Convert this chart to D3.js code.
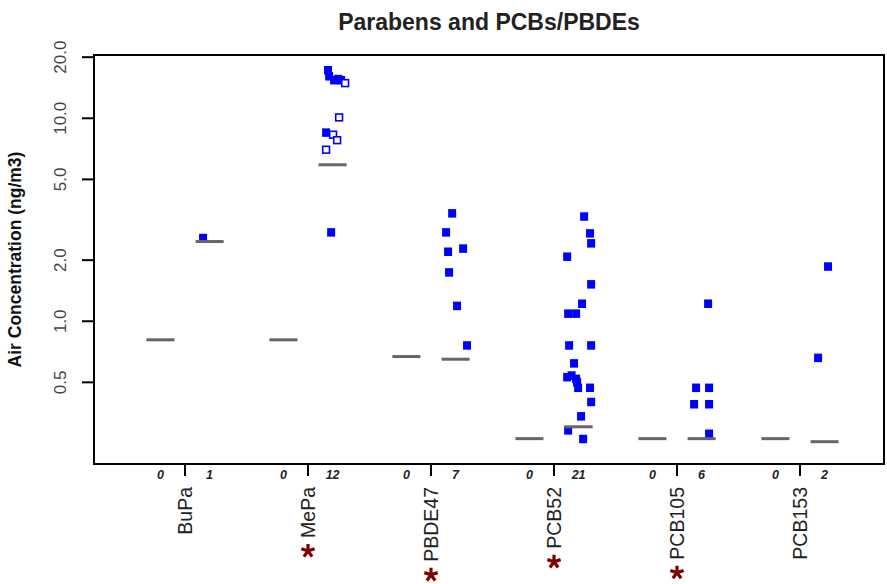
<!DOCTYPE html>
<html>
<head>
<meta charset="utf-8">
<script src="https://cdn.jsdelivr.net/npm/d3@7"></script>
<style>
  body { margin: 0; background: #fff; }
  text { font-family: "Liberation Sans", Arial, sans-serif; }
</style>
</head>
<body>
<div id="chart"></div>
<script>
// groups along the x axis, two slots each (control "0" / exposed n)
var groups = ["BuPa", "MePa", "PBDE47", "PCB52", "PCB105", "PCB153"];
var countsCtrl = [0, 0, 0, 0, 0, 0];
var countsExp = [1, 12, 7, 21, 6, 2];
var refCtrl = [0.81, 0.81, 0.67, 0.264, 0.264, 0.264];
var refExp = [2.47, 5.9, 0.65, 0.302, 0.264, 0.255];
var starred = ["MePa", "PBDE47", "PCB52", "PCB105"];
var yTicks = [0.5, 1, 2, 5, 10, 20];

// measured values, small horizontal jitter (in group units) and open/filled flag
var buPaVals = [2.57];
var buPaJit = [-0.053];
var buPaOpen = [0];

var mePaVals = [17.25, 16.1, 15.4, 15.6, 15.4, 14.9, 10.1, 8.5, 8.3, 7.8, 7.0, 2.74];
var mePaJit = [-0.037, -0.028, 0.012, 0.045, 0.069, 0.102, 0.053, -0.053, 0.004, 0.037, -0.053, -0.012];
var mePaOpen = [0, 0, 0, 0, 0, 1, 1, 0, 1, 1, 1, 0];

var pbde47Vals = [3.4, 2.74, 2.2, 2.28, 1.74, 1.19, 0.76];
var pbde47Jit = [-0.028, -0.077, -0.061, 0.061, -0.053, 0.012, 0.093];
var pbde47Open = [0, 0, 0, 0, 0, 0, 0];

var pcb52Vals = [3.28, 2.71, 2.42, 2.08, 1.52, 1.22, 1.09, 1.09, 0.76, 0.76, 0.62, 0.53, 0.52, 0.47, 0.47, 0.40, 0.34, 0.29, 0.263, 0.54, 0.50];
var pcb52Jit = [0.045, 0.093, 0.102, -0.093, 0.102, 0.028, -0.085, -0.020, -0.077, 0.102, -0.037, -0.093, -0.020, -0.004, 0.093, 0.102, 0.020, -0.085, 0.037, -0.057, -0.012];
var pcb52Open = pcb52Vals.map(function() { return 0; });

var pcb105Vals = [1.22, 0.47, 0.47, 0.39, 0.39, 0.279];
var pcb105Jit = [0.053, -0.045, 0.061, -0.061, 0.061, 0.061];
var pcb105Open = [0, 0, 0, 0, 0, 0];

var pcb153Vals = [1.86, 0.66];
var pcb153Jit = [0.028, -0.053];
var pcb153Open = [0, 0];

var allVals = [buPaVals, mePaVals, pbde47Vals, pcb52Vals, pcb105Vals, pcb153Vals];
var allJit = [buPaJit, mePaJit, pbde47Jit, pcb52Jit, pcb105Jit, pcb153Jit];
var allOpen = [buPaOpen, mePaOpen, pbde47Open, pcb52Open, pcb105Open, pcb153Open];

var points = [];
allVals.forEach(function(vals, gi) {
  vals.forEach(function(v, k) {
    points.push({ g: gi, value: v, jit: allJit[gi][k], open: allOpen[gi][k] });
  });
});

var width = 887,
  height = 584,
  box = { left: 94, right: 884, top: 55, bottom: 464 },
  slot = 0.2; // offset of the two sub positions from the group centre

var x = d3.scaleLinear().domain([0.5, 6.5]).range([123.5, 861.5]);
var y = d3.scaleLog().domain([0.198, 20.5]).range([box.bottom, box.top]);

var svg = d3.select("#chart")
  .append("svg")
  .attr("width", width)
  .attr("height", height);

// title
svg.append("text")
  .attr("x", (box.left + box.right) / 2)
  .attr("y", 30)
  .attr("text-anchor", "middle")
  .style("font-size", "23px")
  .style("font-weight", "bold")
  .style("fill", "#222")
  .text("Parabens and PCBs/PBDEs");

// y axis title
svg.append("text")
  .attr("transform", "translate(15," + (box.top + box.bottom) / 2 + ") rotate(-90)")
  .attr("text-anchor", "middle")
  .attr("dy", "0.35em")
  .style("font-size", "17.5px")
  .style("font-weight", "bold")
  .style("fill", "#111")
  .text("Air Concentration (ng/m3)");

// y ticks
var yt = svg.append("g").selectAll("g")
  .data(yTicks)
  .enter().append("g");

yt.append("line")
  .attr("x1", box.left - 12)
  .attr("x2", box.left)
  .attr("y1", function(d) { return y(d); })
  .attr("y2", function(d) { return y(d); })
  .style("stroke", "#000")
  .style("stroke-width", 2);

yt.append("text")
  .attr("transform", function(d) { return "translate(60," + y(d) + ") rotate(-90)"; })
  .attr("text-anchor", "middle")
  .attr("dy", "0.35em")
  .style("font-size", "17px")
  .style("fill", "#444")
  .text(function(d) { return d3.format(".1f")(d); });

// x ticks at group centres
var xt = svg.append("g").selectAll("g")
  .data(groups)
  .enter().append("g");

xt.append("line")
  .attr("x1", function(d, i) { return x(i + 1); })
  .attr("x2", function(d, i) { return x(i + 1); })
  .attr("y1", box.bottom)
  .attr("y2", box.bottom + 12)
  .style("stroke", "#000")
  .style("stroke-width", 2);

// sample counts under each slot
xt.append("text")
  .attr("x", function(d, i) { return x(i + 1 - slot); })
  .attr("y", box.bottom + 15)
  .attr("text-anchor", "middle")
  .style("font-size", "12.5px")
  .style("font-weight", "bold")
  .style("font-style", "italic")
  .style("fill", "#222")
  .text(function(d, i) { return countsCtrl[i]; });

xt.append("text")
  .attr("x", function(d, i) { return x(i + 1 + slot); })
  .attr("y", box.bottom + 15)
  .attr("text-anchor", "middle")
  .style("font-size", "12.5px")
  .style("font-weight", "bold")
  .style("font-style", "italic")
  .style("fill", "#222")
  .text(function(d, i) { return countsExp[i]; });

// group labels, rotated
var labels = xt.append("text")
  .attr("transform", function(d, i) { return "translate(" + x(i + 1) + "," + (box.bottom + 23) + ") rotate(-90)"; })
  .attr("text-anchor", "end")
  .attr("dy", "0.35em")
  .style("font-size", "19.5px")
  .style("fill", "#222")
  .text(function(d) { return d; });

// red asterisks below starred labels
var starPath = d3.range(5).map(function(k) {
  var a = (-90 + 72 * k) * Math.PI / 180;
  return "M0,0L" + (7 * Math.cos(a)).toFixed(2) + "," + (7 * Math.sin(a)).toFixed(2);
}).join("");

labels.each(function(d, i) {
  if (starred.indexOf(d) < 0) return;
  var len = this.getComputedTextLength();
  svg.append("path")
    .attr("transform", "translate(" + x(i + 1) + "," + (box.bottom + 23 + len + 13) + ")")
    .attr("d", starPath)
    .style("fill", "none")
    .style("stroke", "#800000")
    .style("stroke-width", 3.2);
});

// points
svg.append("g").selectAll("rect")
  .data(points)
  .enter().append("rect")
  .attr("x", function(d) { return x(d.g + 1 + slot + d.jit) - (d.open ? 3.4 : 4); })
  .attr("y", function(d) { return y(d.value) - (d.open ? 3.4 : 4.25); })
  .attr("width", function(d) { return d.open ? 6.8 : 8; })
  .attr("height", function(d) { return d.open ? 6.8 : 8.5; })
  .style("fill", function(d) { return d.open ? "#fff" : "#0000ff"; })
  .style("stroke", function(d) { return d.open ? "#0000ff" : "none"; })
  .style("stroke-width", 1.6);

// reference bars for each slot
var refs = [];
groups.forEach(function(g, i) {
  refs.push({ pos: i + 1 - slot, value: refCtrl[i] });
  refs.push({ pos: i + 1 + slot, value: refExp[i] });
});

svg.append("g").selectAll("line")
  .data(refs)
  .enter().append("line")
  .attr("x1", function(d) { return x(d.pos - 0.114); })
  .attr("x2", function(d) { return x(d.pos + 0.114); })
  .attr("y1", function(d) { return y(d.value); })
  .attr("y2", function(d) { return y(d.value); })
  .style("stroke", "#666")
  .style("stroke-width", 3);

// plot frame
svg.append("rect")
  .attr("x", box.left)
  .attr("y", box.top)
  .attr("width", box.right - box.left)
  .attr("height", box.bottom - box.top)
  .style("fill", "none")
  .style("stroke", "#000")
  .style("stroke-width", 2);
</script>
</body>
</html>
